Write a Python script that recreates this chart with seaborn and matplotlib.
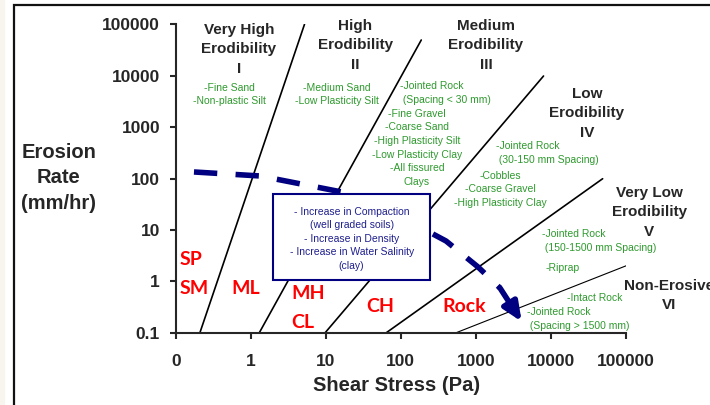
import pandas as pd
import matplotlib
matplotlib.use("Agg")
import matplotlib.pyplot as plt
from matplotlib.patches import Rectangle
import seaborn as sns

sns.set_style("ticks")
plt.rcParams['font.family'] = ['Liberation Sans', 'DejaVu Sans']

# boundaries between erodibility categories (shear stress Pa, erosion rate mm/hr)
bound_names = ["I-II", "II-III", "III-IV", "IV-V", "V-VI"]
bound_x0 = [0.21, 1.3, 9.8, 64, 546]
bound_y0 = [0.1, 0.1, 0.1, 0.1, 0.1]
bound_x1 = [5.2, 187, 7960, 48800, 100000]
bound_y1 = [100000, 49500, 9860, 99, 2.0]

# trend arrow (dashed)
trend_x = [0.175, 1.33, 16.4, 71.6, 400, 1067, 2094]
trend_y = [134, 112, 54.6, 23.3, 6.08, 1.90, 0.741]
trend_tip = (4074, 0.164)

ticks = [0.1, 1, 10, 100, 1000, 10000, 100000]
xtick_labels = ["0", "1", "10", "100", "1000", "10000", "100000"]
ytick_labels = ["0.1", "1", "10", "100", "1000", "10000", "100000"]

headings = ["Very High\nErodibility\nI", "High\nErodibility\nII",
            "Medium\nErodibility\nIII", "Low\nErodibility\nIV",
            "Very Low\nErodibility\nV", "Non-Erosive\nVI"]
heading_xy = [(0.697, 33000), (24.9, 39500), (1365, 39500), (30200, 1880),
              (203000, 22.3), (374000, 0.53)]

soils = ["SP", "SM", "ML", "MH", "CL", "CH", "Rock"]
soil_xy = [(0.114, 2.6), (0.114, 0.74), (0.865, 0.74), (3.44, 0.59),
           (3.44, 0.161), (52.7, 0.33), (693, 0.33)]
soil_ha = ["left", "left", "center", "left", "left", "center", "center"]

# green material lists: text, x, y, alignment
materials = [
    ("-Fine Sand\n-Non-plastic Silt", 0.513, 4270, "center"),
    ("-Medium Sand\n-Low Plasticity Silt", 14.1, 4270, "center"),
    ("-Jointed Rock\n (Spacing < 30 mm)", 97.5, 4650, "left"),
    ("-Fine Gravel\n-Coarse Sand\n-High Plasticity Silt\n-Low Plasticity Clay\n-All fissured\nClays",
     164, 397, "center"),
    ("-Jointed Rock\n (30-150 mm Spacing)", 1837, 316, "left"),
    ("-Cobbles\n-Coarse Gravel\n-High Plasticity Clay", 2138, 61.4, "center"),
    ("-Jointed Rock\n (150-1500 mm Spacing)", 7540, 6.03, "left"),
    ("-Riprap", 8340, 1.79, "left"),
    ("-Intact Rock", 16200, 0.467, "left"),
    ("-Jointed Rock\n (Spacing > 1500 mm)", 4750, 0.187, "left"),
]

box_text = ("- Increase in Compaction\n(well graded soils)\n- Increase in Density\n"
            "- Increase in Water Salinity\n(clay)")

navy = "#000080"
green = "#2E9A2E"

fig = plt.figure(figsize=(7.1, 4.05), dpi=100)
fig.patches.append(Rectangle((0, 0), 4 / 710, 1, transform=fig.transFigure,
                             color="#f7f5ee", zorder=0))
fig.patches.append(Rectangle((13.5 / 710, -0.1), 1.2, 1.1 - 5.5 / 405,
                             transform=fig.transFigure, fill=False,
                             edgecolor="#111111", lw=1.6, zorder=1))
ax = fig.add_axes([0.2475, 0.1785, 0.6342, 0.7615])
ax.set_xscale("log")
ax.set_yscale("log")

df = pd.DataFrame({
    "boundary": bound_names * 2,
    "stress": bound_x0 + bound_x1,
    "rate": bound_y0 + bound_y1,
})
for name in bound_names:
    sub = df[df["boundary"] == name]
    sns.lineplot(data=sub, x="stress", y="rate", color="black",
                 lw=0.8 if name == "V-VI" else 1.2, estimator=None, ax=ax)

sns.lineplot(x=trend_x, y=trend_y, color=navy, lw=4, sort=False,
             estimator=None, ax=ax, zorder=3)
ax.lines[-1].set_dashes((4.2, 3.3))
ax.lines[-1].set_dash_capstyle("butt")
ax.annotate("", xy=trend_tip, xytext=(trend_x[-1], trend_y[-1]),
            arrowprops=dict(arrowstyle="-|>,head_length=0.8,head_width=0.35",
                            mutation_scale=14, lw=4, color=navy,
                            shrinkA=0, shrinkB=0), zorder=3)

# box with explanations
ax.add_patch(Rectangle((2.0, 1.06), 244 - 2.0, 49.9 - 1.06, facecolor="white",
                       edgecolor=navy, lw=1.5, zorder=5))
ax.text(22.1, 6.74, box_text, ha="center", va="center", fontsize=7.5,
        color="#1f1f8f", linespacing=1.45, zorder=6)

for txt, (x, y) in zip(headings, heading_xy):
    ax.text(x, y, txt, ha="center", va="center", fontsize=11,
            fontweight="bold", linespacing=1.5, clip_on=False)

for txt, (x, y), ha in zip(soils, soil_xy, soil_ha):
    ax.text(x, y, txt, ha=ha, va="center", fontsize=14, color="#ff0000",
            fontweight="bold", family=["Lato", "DejaVu Sans"])

for txt, x, y, ha in materials:
    ax.text(x, y, txt, ha=ha, va="center", fontsize=7.5, color=green,
            linespacing=1.45, multialignment="left" if ha == "left" else "center")

ax.set_xlim(0.1, 100000)
ax.set_ylim(0.1, 100000)
ax.minorticks_off()
ax.set_xticks(ticks)
ax.set_xticklabels(xtick_labels)
ax.set_yticks(ticks)
ax.set_yticklabels(ytick_labels)
ax.tick_params(axis="both", length=4.3, width=1.5, labelsize=12.5)
ax.tick_params(axis="x", pad=11)
ax.tick_params(axis="y", pad=7)
for lab in ax.get_xticklabels() + ax.get_yticklabels():
    lab.set_fontweight("bold")
ax.set_xlabel("")
ax.set_ylabel("")
sns.despine(ax=ax)
for s in ["left", "bottom"]:
    ax.spines[s].set_linewidth(1.5)

fig.text(0.083, 0.561, "Erosion\nRate\n(mm/hr)", ha="center", va="center",
         fontsize=14.5, fontweight="bold", linespacing=1.44)
fig.text(0.558, 0.047, "Shear Stress (Pa)", ha="center", va="center",
         fontsize=14.5, fontweight="bold")

fig.savefig("out.png", dpi=100)
